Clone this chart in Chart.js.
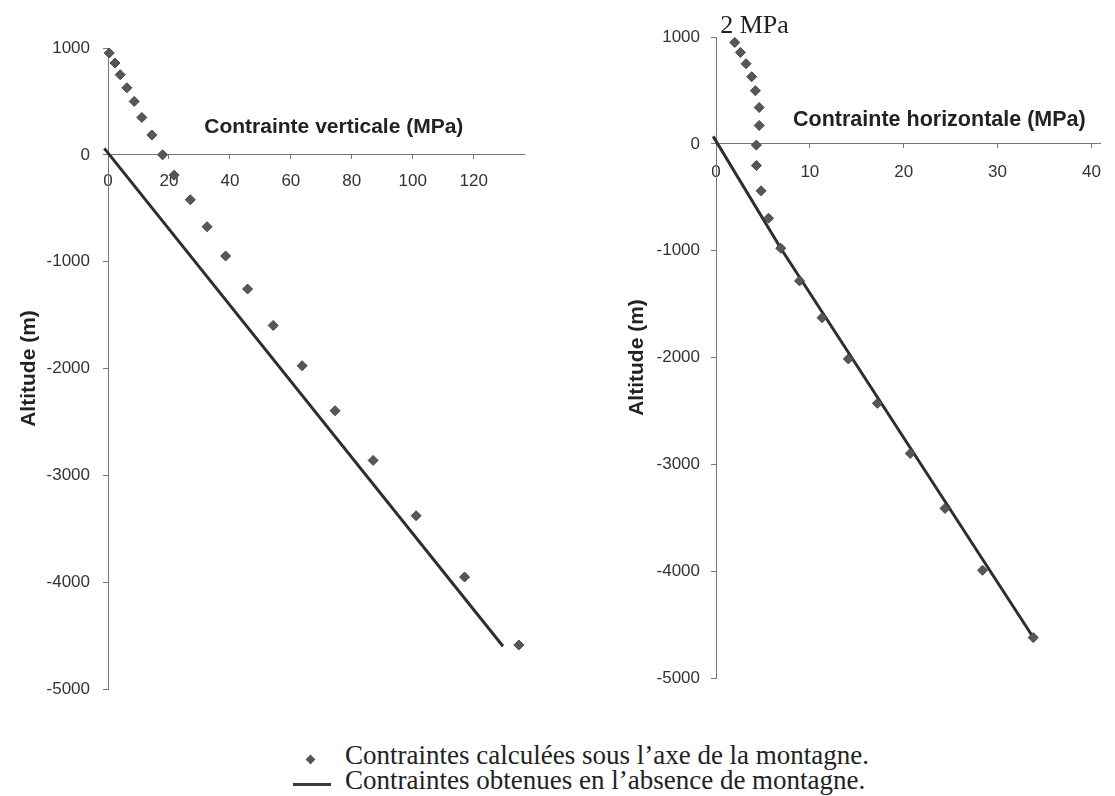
<!DOCTYPE html>
<html lang="fr">
<head>
<meta charset="utf-8">
<title>Contraintes sous la montagne</title>
<script src="https://cdn.jsdelivr.net/npm/chart.js@4.4.1/dist/chart.umd.min.js"></script>
<style>
  html, body { margin: 0; padding: 0; background: #fff; }
  #page { position: relative; width: 1115px; height: 796px; overflow: hidden; color: #222;
          font-family: 'Liberation Serif', 'Times New Roman', serif; }
  #gauche { position: absolute; left: 0; top: 0; }
  #droite { position: absolute; left: 560px; top: 0; }
  .leg { position: absolute; font-size: 27px; line-height: 27px; white-space: nowrap; }
  .losange { position: absolute; width: 7px; height: 7px; background: #555; transform: rotate(45deg); }
  .trait { position: absolute; height: 3px; background: #3a3a3a; }
</style>
</head>
<body>
<div id="page">
  <canvas id="gauche" width="560" height="720"></canvas>
  <canvas id="droite" width="555" height="720"></canvas>
  <span class="losange" style="left:307px; top:756px"></span>
  <div class="leg" style="left:345px; top:742px">Contraintes calculées sous l’axe de la montagne.</div>
  <span class="trait" style="left:293px; top:783px; width:38px"></span>
  <div class="leg" style="left:345px; top:767px">Contraintes obtenues en l’absence de montagne.</div>
</div>
<script>
// valeurs : altitude (m) / contrainte (MPa)
const altitudesV = [953, 860, 750, 628, 500, 350, 186, 0, -190, -420, -673, -947, -1256, -1597, -1974, -2395, -2860, -3378, -3952, -4588];
const contraintesV = [0.4, 2.3, 4.0, 6.2, 8.6, 11.1, 14.4, 17.9, 21.7, 27.0, 32.5, 38.6, 45.8, 54.2, 63.7, 74.5, 87.0, 101.1, 117.0, 134.8];
const sansMontagneV = [-1.2, 129.6];
const sansMontagneAltV = [60, -4600];

const altitudesH = [949, 856, 750, 628, 497, 340, 172, -12, -203, -440, -696, -977, -1283, -1627, -2014, -2429, -2898, -3413, -3991, -4622];
const contraintesH = [2.0, 2.6, 3.2, 3.8, 4.2, 4.6, 4.6, 4.3, 4.3, 4.8, 5.6, 6.9, 8.9, 11.3, 14.1, 17.2, 20.7, 24.4, 28.4, 33.8];
const sansMontagneH = [-0.3, 6.9, 34.0];
const sansMontagneAltH = [70, -977, -4647];

const ticksAltitude = [1000, 0, -1000, -2000, -3000, -4000, -5000];
const ticksV = [0, 20, 40, 60, 80, 100, 120];
const ticksH = [0, 10, 20, 30, 40];

const GRIS = '#777';
const sans = '"Liberation Sans", Arial, sans-serif';

// texte libre placé en coordonnées de données
const legendesAxes = {
  id: 'legendesAxes',
  afterDraw(chart, args, opts) {
    const {ctx, scales: {x, y}} = chart;
    ctx.save();
    (opts.items || []).forEach(it => {
      ctx.font = it.font;
      ctx.fillStyle = '#222';
      ctx.textAlign = 'center';
      ctx.textBaseline = it.baseline || 'middle';
      ctx.fillText(it.text, x.getPixelForValue(it.x), y.getPixelForValue(it.y));
    });
    ctx.restore();
  }
};

function points(xs, ys) {
  return xs.map((v, i) => ({x: v, y: ys[i]}));
}

function graphique(id, o) {
  return new Chart(document.getElementById(id), {
    type: 'scatter',
    data: {
      datasets: [{
        label: 'Contraintes calculées sous l’axe de la montagne.',
        data: points(o.cx, o.cy),
        pointStyle: 'rectRot',
        pointRadius: 5,
        backgroundColor: '#575757',
        borderColor: '#444',
        borderWidth: 1,
        clip: false
      }, {
        label: 'Contraintes obtenues en l’absence de montagne.',
        data: points(o.lx, o.ly),
        showLine: true,
        pointRadius: 0,
        borderColor: '#2e2e2e',
        borderWidth: 3,
        clip: false
      }]
    },
    options: {
      responsive: false,
      animation: false,
      layout: { padding: o.padding },
      scales: {
        x: {
          type: 'linear',
          position: { y: 0 },
          min: 0,
          max: o.xmax,
          afterBuildTicks: s => { s.ticks = o.xticks.map(v => ({value: v})); },
          grid: { drawOnChartArea: false, drawTicks: true, tickLength: 4, color: GRIS },
          border: { display: true, color: GRIS, width: 1 },
          ticks: { padding: o.xpad, color: '#333', font: { family: sans, size: 17 }, callback: v => String(v) }
        },
        y: {
          type: 'linear',
          position: 'left',
          min: -5000,
          max: 1000,
          afterBuildTicks: s => { s.ticks = ticksAltitude.map(v => ({value: v})); },
          afterFit: s => { s.width = o.ywidth; },
          grid: { drawOnChartArea: false, drawTicks: true, tickLength: 5, color: GRIS },
          border: { display: true, color: GRIS, width: 1 },
          ticks: { padding: o.ypad, color: '#333', font: { family: sans, size: 17 }, callback: v => String(v) },
          title: {
            display: true,
            text: 'Altitude (m)',
            color: '#222',
            font: { family: sans, size: 21, weight: 'bold' },
            padding: { top: o.titlePad, bottom: 0 }
          }
        }
      },
      plugins: {
        legend: { display: false },
        tooltip: { enabled: false },
        legendesAxes: { items: o.captions }
      }
    },
    plugins: [legendesAxes]
  });
}

graphique('gauche', {
  cx: contraintesV, cy: altitudesV,
  lx: sansMontagneV, ly: sansMontagneAltV,
  xmax: 136.5, xticks: ticksV,
  padding: { top: 48, bottom: 31, left: 0, right: 36 },
  ywidth: 108, ypad: 13, xpad: 12, titlePad: 17,
  captions: [
    { text: 'Contrainte verticale (MPa)', x: 74.1, y: 254, font: 'bold 21px ' + sans }
  ]
});

graphique('droite', {
  cx: contraintesH, cy: altitudesH,
  lx: sansMontagneH, ly: sansMontagneAltH,
  xmax: 41, xticks: ticksH,
  padding: { top: 37, bottom: 42, left: 0, right: 2 },
  ywidth: 156, ypad: 11, xpad: 14, titlePad: 65,
  captions: [
    { text: 'Contrainte horizontale (MPa)', x: 23.8, y: 219, font: 'bold 21.5px ' + sans },
    { text: '2 MPa', x: 4.1, y: 1037, baseline: 'alphabetic', font: '26px "Liberation Serif", "Times New Roman", serif' }
  ]
});
</script>
</body>
</html>
